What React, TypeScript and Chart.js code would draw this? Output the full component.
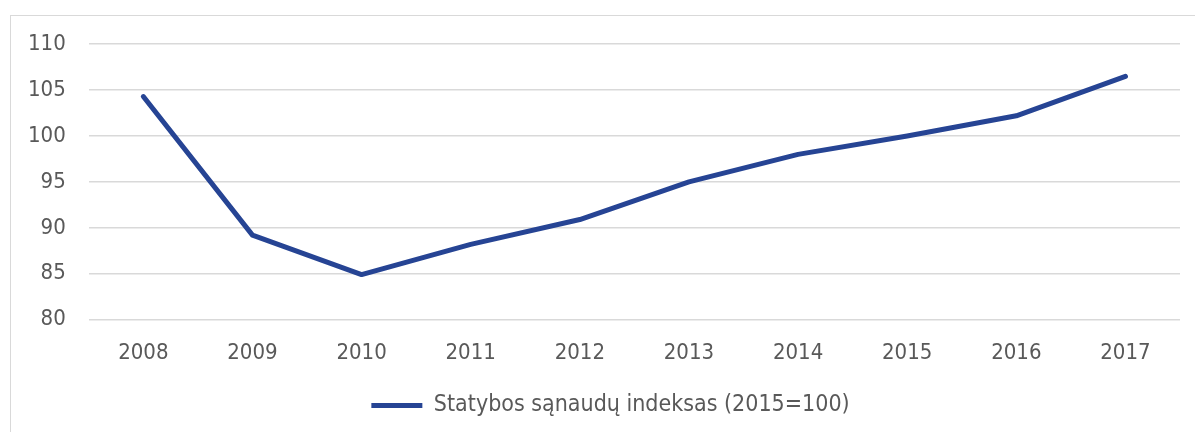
import React, { useEffect, useRef } from "react";
import { Chart, registerables } from "chart.js";

Chart.register(...registerables);

const years: string[] = ["2008", "2009", "2010", "2011", "2012", "2013", "2014", "2015", "2016", "2017"];
const indexValues: number[] = [104.3, 89.2, 84.9, 88.2, 90.9, 95.0, 98.0, 100.0, 102.2, 106.5];
const seriesLabel = "Statybos sąnaudų indeksas (2015=100)";
const yMin = 80;
const yMax = 110;
const yStep = 5;

const FONT = "'DejaVu Sans Condensed', 'DejaVu Sans', sans-serif";
const TEXT = "#595959";
const LINE = "#264494";

// the frame is wider than the window, so the legend sits right of the visible centre
const legendShift = {
  id: "legendShift",
  afterLayout(chart: any) {
    const lg = chart.legend;
    if (lg) {
      lg.left += 18;
      lg.right += 18;
    }
  },
};

export default function App() {
  const ref = useRef<HTMLCanvasElement | null>(null);
  useEffect(() => {
    if (!ref.current) return;
    const chart = new Chart(ref.current, {
      type: "line",
      data: {
        labels: years,
        datasets: [
          {
            label: seriesLabel,
            data: indexValues,
            borderColor: LINE,
            backgroundColor: LINE,
            borderWidth: 5,
            borderCapStyle: "round",
            borderJoinStyle: "round",
            pointRadius: 0,
            pointHoverRadius: 0,
            tension: 0,
            fill: false,
          },
        ],
      },
      plugins: [legendShift],
      options: {
        animation: false,
        responsive: false,
        maintainAspectRatio: false,
        layout: { padding: { left: -6, top: 0, right: 15, bottom: 0 } },
        plugins: {
          tooltip: { enabled: false },
          legend: {
            position: "bottom",
            labels: {
              usePointStyle: true,
              pointStyle: "line",
              pointStyleWidth: 51,
              padding: 8,
              color: TEXT,
              font: { family: FONT, size: 23 },
            },
          },
        },
        scales: {
          x: {
            type: "category",
            offset: true,
            grid: { display: false, drawTicks: false },
            border: { display: false },
            ticks: { color: TEXT, font: { family: FONT, size: 22 }, padding: 20, maxRotation: 0 },
          },
          y: {
            min: yMin,
            max: yMax,
            grid: { color: "#d9d9d9", lineWidth: 1.5, drawTicks: false },
            border: { display: false },
            ticks: { stepSize: yStep, color: TEXT, font: { family: FONT, size: 22 }, padding: 23 },
          },
        },
      },
    });
    return () => chart.destroy();
  }, []);
  return (
    <div
      style={{
        position: "absolute",
        left: 10,
        top: 15,
        width: 1200,
        height: 440,
        border: "1px solid #d9d9d9",
        boxSizing: "border-box",
      }}
    >
      <canvas
        ref={ref}
        width={1184}
        height={419}
        style={{ display: "block", position: "relative", top: -8 }}
      />
    </div>
  );
}
